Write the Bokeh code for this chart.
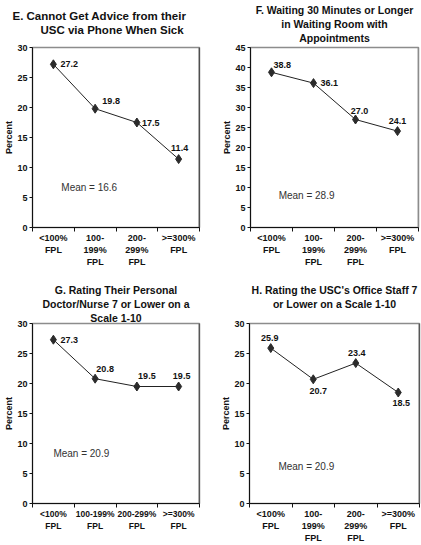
from bokeh.plotting import figure
from bokeh.layouts import column, row
from bokeh.models import FixedTicker, Span, Title, Label, Range1d
from bokeh.embed import file_html
from bokeh.resources import INLINE
from bokeh.core.properties import value

# ---------------- data ----------------
labels_stacked = ["<100%\nFPL", "100-\n199%\nFPL", "200-\n299%\nFPL", ">=300%\nFPL"]
labels_flat = ["<100%\nFPL", "100-199%\nFPL", "200-299%\nFPL", ">=300%\nFPL"]

e_values = [27.2, 19.8, 17.5, 11.4]
f_values = [38.8, 36.1, 27.0, 24.1]
g_values = [27.3, 20.8, 19.5, 19.5]
h_values = [25.9, 20.7, 23.4, 18.5]

e_mean = 16.6
f_mean = 28.9
g_mean = 20.9
h_mean = 20.9

e_title = ["E. Cannot Get Advice from their", "USC via Phone When Sick"]
f_title = ["F. Waiting 30 Minutes or Longer", "in Waiting Room with", "Appointments"]
g_title = ["G. Rating Their Personal", "Doctor/Nurse 7 or Lower on a", "Scale 1-10"]
h_title = ["H. Rating the USC's Office Staff 7", "or Lower on a Scale 1-10"]

e_ymax, f_ymax, g_ymax, h_ymax = 30, 45, 30, 30
y_step = 5

# ---------------- styles / positions ----------------
FONT = "Liberation Sans"
# per-point label placement: (x_offset px, y_offset px, align)
e_lab = [(7, 0, "left"), (16, -8, "center"), (5, 0, "left"), (1, -11, "center")]
f_lab = [(2, -7, "left"), (7, 0, "left"), (4, -9, "center"), (0, -10, "center")]
g_lab = [(7, 0, "left"), (10, -10, "center"), (10, -11, "center"), (3, -11, "center")]
h_lab = [(-1, -10, "center"), (5, 12, "center"), (1, -10, "center"), (3, 10, "center")]


def make_panel(title_lines, title_offsets, title_size, spacer_size, values, labels,
               mean, ymax, lab_style, mean_xy, width, height, borders, right_color,
               xlab_size):
    n = len(values)
    p = figure(width=width, height=height, x_range=Range1d(0, n),
               y_range=Range1d(0, ymax), output_backend="svg",
               toolbar_location=None, title=None,
               min_border_left=borders[0], min_border_right=borders[1],
               min_border_top=borders[2], min_border_bottom=borders[3])
    p.xgrid.visible = False
    p.ygrid.visible = False
    p.background_fill_color = "white"
    p.border_fill_color = "white"
    p.outline_line_color = "#8c8c8c"
    p.outline_line_width = 1.5

    # spacer between title block and frame
    if spacer_size:
        p.add_layout(Title(text=" ", text_font_size=spacer_size, standoff=0), "above")
    # titles, one Title per line (last line closest to plot)
    for k in reversed(range(len(title_lines))):
        off = title_offsets[k]
        if off is None:
            t = Title(text=title_lines[k], align="center")
        else:
            t = Title(text=title_lines[k], align="left", offset=off)
        t.text_font = FONT
        t.text_font_size = title_size
        t.text_font_style = "bold"
        t.text_color = "#111111"
        t.standoff = 0
        p.add_layout(t, "above")

    xs = [i + 0.5 for i in range(n)]
    p.line(xs, values, line_color="#222222", line_width=1)
    p.scatter(xs, values, marker="diamond", size=9, fill_color="#2b2b2b",
              line_color="#2b2b2b")

    for i in range(n):
        dx, dy, al = lab_style[i]
        p.text(x=[xs[i]], y=[values[i]], text=[f"{values[i]:.1f}"],
               x_offset=dx, y_offset=dy, text_align=al, text_baseline="middle",
               text_font=value(FONT), text_font_size="9px",
               text_font_style="bold", text_color="#111111")

    p.add_layout(Label(x=mean_xy[0], y=mean_xy[1], text=f"Mean = {mean:.1f}",
                       text_font=FONT, text_font_size="10px",
                       text_baseline="middle", text_color="#333333"))

    p.add_layout(Span(location=n, dimension="height", line_color=right_color,
                      line_width=1.5))

    xa = p.xaxis[0]
    xa.axis_label = None
    xa.ticker = FixedTicker(ticks=xs, minor_ticks=list(range(n + 1)))
    xa.major_label_overrides = {x: lab for x, lab in zip(xs, labels)}
    xa.major_tick_out = 0
    xa.major_tick_in = 0
    xa.minor_tick_out = 4
    xa.minor_tick_in = 0
    xa.minor_tick_line_color = "#111111"
    xa.axis_line_color = "#111111"
    xa.major_label_text_font = FONT
    xa.major_label_text_font_size = xlab_size
    xa.major_label_text_font_style = "bold"
    xa.major_label_text_color = "#111111"
    xa.major_label_standoff = 1
    xa.major_label_text_line_height = 1.2

    ya = p.yaxis[0]
    ya.ticker = FixedTicker(ticks=list(range(0, ymax + 1, y_step)), minor_ticks=[])
    ya.major_tick_out = 3
    ya.major_tick_in = 0
    ya.major_tick_line_color = "#111111"
    ya.axis_line_color = "#111111"
    ya.major_label_text_font = FONT
    ya.major_label_text_font_size = "9px"
    ya.major_label_text_font_style = "bold"
    ya.major_label_text_color = "#111111"
    ya.major_label_standoff = 2
    ya.axis_label = "Percent"
    ya.axis_label_text_font = FONT
    ya.axis_label_text_font_size = "9px"
    ya.axis_label_text_font_style = "bold"
    ya.axis_label_text_color = "#111111"
    ya.axis_label_standoff = 0
    return p


pe = make_panel(e_title, [-20, 8], "11.5px", "9px", e_values, labels_stacked, e_mean,
                e_ymax, e_lab, (0.69, 6.7), 210, 278, (32, 11, 46, 51), "#111111", "9px")
pf = make_panel(f_title, [None, None, None], "10.5px", "2px", f_values, labels_stacked,
                f_mean, f_ymax, f_lab, (0.67, 7.9), 211, 278, (40, 3, 47, 49),
                "#8c8c8c", "9px")
pg = make_panel(g_title, [None, None, None], "10.5px", None, g_values, labels_flat,
                g_mean, g_ymax, g_lab, (0.5, 8.3), 210, 267, (32, 11, 45, 27),
                "#222222", "8.5px")
ph = make_panel(h_title, [None, None], "10.5px", "11px", h_values, labels_stacked,
                h_mean, h_ymax, h_lab, (0.68, 6.1), 211, 267, (39, 2, 45, 41),
                "#222222", "9px")

layout = column(row(pe, pf), row(pg, ph))
open("out.html", "w").write(file_html(layout, INLINE))
